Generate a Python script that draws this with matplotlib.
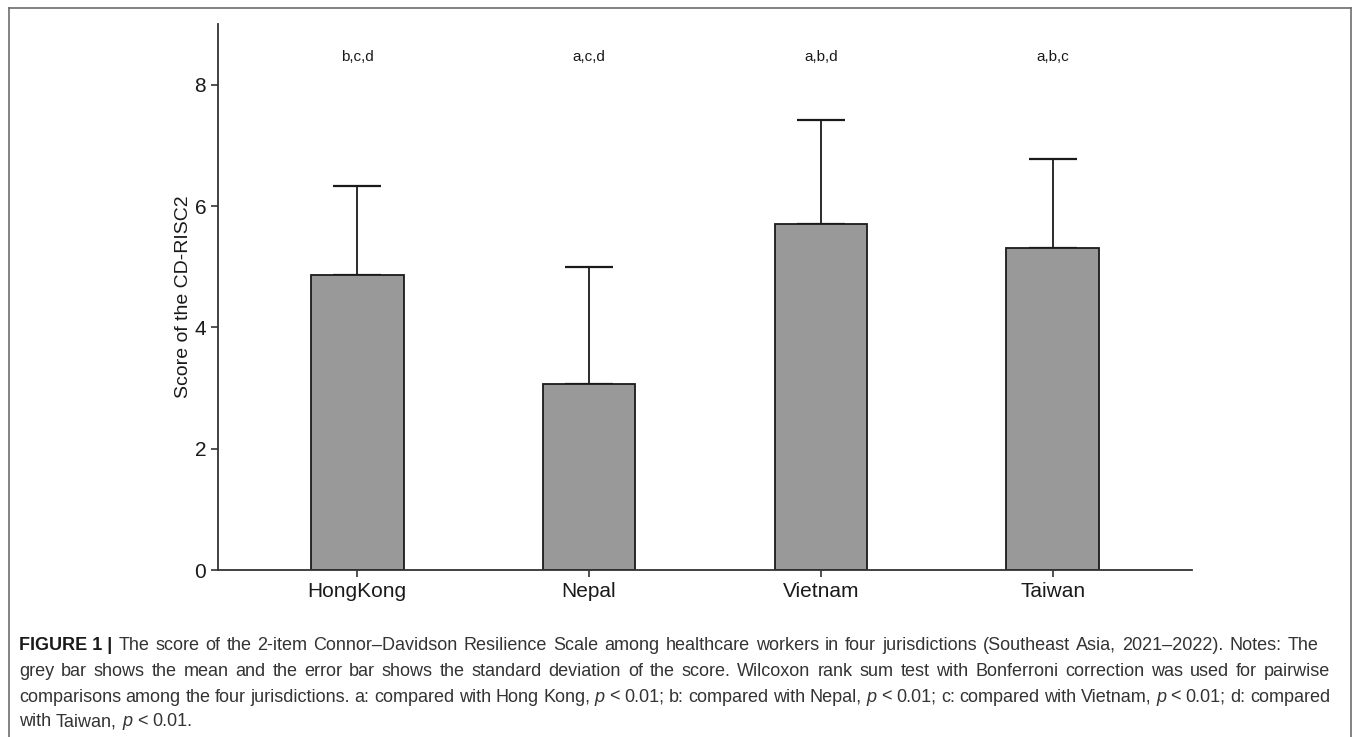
import matplotlib
matplotlib.use("Agg")
import matplotlib.pyplot as plt
from matplotlib import font_manager
from matplotlib.lines import Line2D

# ---- data ----
categories = ["HongKong", "Nepal", "Vietnam", "Taiwan"]
means = [4.86, 3.07, 5.71, 5.31]
sds = [1.47, 1.93, 1.71, 1.47]
sig_labels = ["b,c,d", "a,c,d", "a,b,d", "a,b,c"]
yticks = [0, 2, 4, 6, 8]
ylabel = "Score of the CD-RISC2"

W, H = 1355, 737
fig = plt.figure(figsize=(W / 100, H / 100), dpi=100)

names = {f.name for f in font_manager.fontManager.ttflist}
chart_font = "Liberation Sans" if "Liberation Sans" in names else "DejaVu Sans"
cap_font = "Liberation Sans Narrow" if "Liberation Sans Narrow" in names else chart_font

ax = fig.add_axes([218 / W, (H - 570) / H, (1192 - 218) / W, (570 - 24) / H])
x = list(range(len(categories)))
ax.bar(x, means, width=0.4, color="#999999", edgecolor="#1a1a1a", linewidth=1.3, zorder=2)
ax.errorbar(x, means, yerr=[[0] * len(sds), sds], fmt="none", ecolor="#1a1a1a",
            elinewidth=1.3, capsize=17, capthick=1.6, zorder=1)
for xi, lab in zip(x, sig_labels):
    ax.text(xi, 8.45, lab, ha="center", va="center", fontsize=11,
            family=chart_font, color="#1a1a1a")

ax.set_xlim(-0.6, 3.6)
ax.set_ylim(0, 9)
ax.set_yticks(yticks)
ax.set_xticks(x)
ax.set_xticklabels(categories)
for s in ["top", "right"]:
    ax.spines[s].set_visible(False)
for s in ["left", "bottom"]:
    ax.spines[s].set_color("#333333")
    ax.spines[s].set_linewidth(1.3)
ax.tick_params(axis="both", colors="#333333", width=1.2, length=5, labelsize=15,
               labelcolor="#1a1a1a")
for lab in ax.get_xticklabels() + ax.get_yticklabels():
    lab.set_family(chart_font)
ax.set_ylabel(ylabel, fontsize=14, family=chart_font, color="#1a1a1a", labelpad=2)

# ---- frame around figure (no bottom edge) ----
fx0, fx1, fy0 = 9 / W, 1351 / W, 1 - 8 / H
for xs, ys in [([fx0, fx0], [0, fy0]), ([fx0, fx1], [fy0, fy0]), ([fx1, fx1], [fy0, 0])]:
    fig.add_artist(Line2D(xs, ys, transform=fig.transFigure, color="#6d6d6d", lw=1.2))

# ---- caption with justification ----
lines = [
    [[("FIGURE 1 |", "bold")], [("The", "n")], [("score", "n")], [("of", "n")], [("the", "n")],
     [("2-item", "n")], [("Connor–Davidson", "n")], [("Resilience", "n")], [("Scale", "n")],
     [("among", "n")], [("healthcare", "n")], [("workers", "n")], [("in", "n")], [("four", "n")],
     [("jurisdictions", "n")], [("(Southeast", "n")], [("Asia,", "n")], [("2021–2022).", "n")],
     [("Notes:", "n")], [("The", "n")]],
    "grey bar shows the mean and the error bar shows the standard deviation of the score. "
    "Wilcoxon rank sum test with Bonferroni correction was used for pairwise",
    "comparisons among the four jurisdictions. a: compared with Hong Kong, *p* < 0.01; b: "
    "compared with Nepal, *p* < 0.01; c: compared with Vietnam, *p* < 0.01; d: compared",
    "with Taiwan, *p* < 0.01.",
]

def parse(line):
    if isinstance(line, list):
        return line
    words = []
    for w in line.split(" "):
        if w.startswith("*") and w.count("*") >= 2:
            inner = w.split("*")
            runs = [(inner[1], "i")]
            if inner[2]:
                runs.append((inner[2], "n"))
            words.append(runs)
        else:
            words.append([(w, "n")])
    return words

fig.canvas.draw()
renderer = fig.canvas.get_renderer()
cap_size = 13
left_px = 19
rights = [1318, 1330, 1330, None]
ys = [645, 671, 697, 722]

def make_text(s, style):
    kw = dict(fontsize=cap_size, family=cap_font, color="#333333", va="center", ha="left")
    if style == "bold":
        kw["weight"] = "bold"
        kw["color"] = "#1a1a1a"
    if style == "i":
        kw["style"] = "italic"
    return fig.text(0, 0, s, **kw)

space_t = make_text("a a", "n")
aa_t = make_text("aa", "n")
sp_w = space_t.get_window_extent(renderer).width - aa_t.get_window_extent(renderer).width
space_t.remove(); aa_t.remove()

for line, r, y in zip(lines, rights, ys):
    words = parse(line)
    built = []
    total = 0
    for runs in words:
        arts = []
        ww = 0
        for s, st in runs:
            t = make_text(s, st)
            w = t.get_window_extent(renderer).width
            arts.append((t, w))
            ww += w
        built.append((arts, ww))
        total += ww
    if r is not None and len(built) > 1:
        gap = (r - left_px - total) / (len(built) - 1)
    else:
        gap = sp_w
    xpos = left_px
    for arts, ww in built:
        xx = xpos
        for t, w in arts:
            t.set_position((xx / W, 1 - y / H))
            xx += w
        xpos += ww + gap

fig.savefig("out.png", dpi=100)
